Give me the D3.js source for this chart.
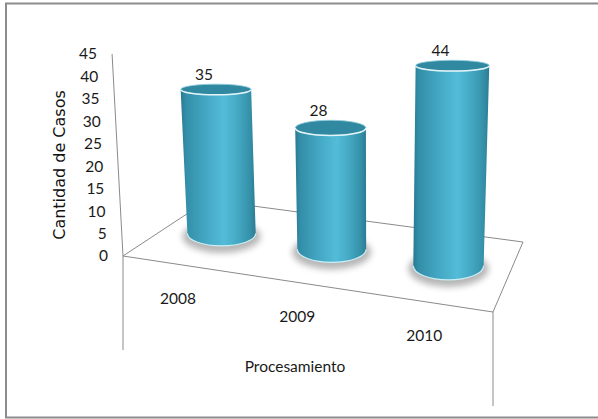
<!DOCTYPE html>
<html><head><meta charset="utf-8">
<script src="https://cdn.jsdelivr.net/npm/d3@7"></script>
<style>html,body{margin:0;padding:0;background:#fff;} svg{display:block}</style>
</head><body>
<svg id="chart" width="598" height="419"></svg>
<script>
const categories = ["2008", "2009", "2010"];
const values = [35, 28, 44];
const tickValues = [0, 5, 10, 15, 20, 25, 30, 35, 40, 45];
const yTitle = "Cantidad de Casos";
const xTitle = "Procesamiento";

const svg = d3.select("#chart");
const defs = svg.append("defs");

// frame
svg.append("rect").attr("x", 6).attr("y", 3.5).attr("width", 620).attr("height", 414)
  .attr("fill", "#fff").attr("stroke", "#8c8c8c").attr("stroke-width", 2);

// floor homography (unit square -> screen quad)
const FL = [123, 256], FR = [493, 312], BR = [523, 242], BL = [208, 200];
function makeHom(p0, p1, p2, p3) {
  const dx1 = p1[0] - p2[0], dx2 = p3[0] - p2[0], dx3 = p0[0] - p1[0] + p2[0] - p3[0];
  const dy1 = p1[1] - p2[1], dy2 = p3[1] - p2[1], dy3 = p0[1] - p1[1] + p2[1] - p3[1];
  const den = dx1 * dy2 - dx2 * dy1;
  const g = (dx3 * dy2 - dx2 * dy3) / den, h = (dx1 * dy3 - dx3 * dy1) / den;
  const a = p1[0] - p0[0] + g * p1[0], b = p3[0] - p0[0] + h * p3[0], c = p0[0];
  const d = p1[1] - p0[1] + g * p1[1], e = p3[1] - p0[1] + h * p3[1], f = p0[1];
  return (u, v) => { const w = g * u + h * v + 1; return [(a * u + b * v + c) / w, (d * u + e * v + f) / w]; };
}
const F = makeHom(FL, FR, BR, BL);

const x = d3.scaleBand().domain(categories).range([0, 1]).padding(0);
const y = d3.scaleLinear().domain([0, 45]).range([0, 1]);

function P(u, v, val) {
  const b = F(u, v);
  const h = y(val) * (202 + 29 * u - 43.2 * v);
  const k = -0.054 + 0.0885 * u;
  return [b[0] + k * h, b[1] - h];
}

// floor
const floorPts = [[0,0],[1,0],[1,1],[0,1]].map(p => F(p[0], p[1]));
svg.append("path").attr("d", "M" + floorPts.map(p => p.join(",")).join("L") + "Z")
  .attr("fill", "none").attr("stroke", "#8a8a8a").attr("stroke-width", 1);
// axis line
const a0 = P(0, 0, 0), a1 = P(0, 0, 45);
svg.append("line").attr("x1", a0[0]).attr("y1", a0[1]).attr("x2", a1[0]).attr("y2", a1[1])
  .attr("stroke", "#8a8a8a").attr("stroke-width", 1);
// drop lines
[[0, 0], [1, 0]].forEach(p => {
  const q = F(p[0], p[1]);
  svg.append("line").attr("x1", q[0]).attr("y1", q[1]).attr("x2", q[0]).attr("y2", q[1] + 94)
    .attr("stroke", "#8a8a8a").attr("stroke-width", 1);
});

// tick labels
svg.append("g").selectAll("text").data(tickValues).join("text")
  .attr("x", d => P(0, 0, d)[0] - 15).attr("y", d => P(0, 0, d)[1])
  .attr("dy", "0.35em").attr("text-anchor", "end")
  .attr("font-family", "Lato, sans-serif").attr("font-size", 15.5).attr("fill", "#1a1a1a")
  .text(d => d);

// gradients & filters
const grad = defs.append("linearGradient").attr("id", "side").attr("x1", 0).attr("x2", 1).attr("y1", 0).attr("y2", 0);
[[0, "#287a91"], [0.07, "#338ea8"], [0.35, "#45a9c5"], [0.58, "#53bcd8"], [0.78, "#43a6c1"], [0.93, "#348fa7"], [1, "#2a7c93"]]
  .forEach(s => grad.append("stop").attr("offset", s[0]).attr("stop-color", s[1]));
defs.append("filter").attr("id", "blur").attr("x", "-50%").attr("y", "-50%").attr("width", "200%").attr("height", "200%")
  .append("feGaussianBlur").attr("stdDeviation", 3);

const ru = 0.095, rv = 0.2, vc = 0.5;
function ellipseOf(uc, val) {
  const pts = d3.range(72).map(i => {
    const t = i / 72 * 2 * Math.PI;
    return P(uc + ru * Math.cos(t), vc + rv * Math.sin(t), val);
  });
  const xs = pts.map(p => p[0]), ys = pts.map(p => p[1]);
  const x0 = d3.min(xs), x1 = d3.max(xs), y0 = d3.min(ys), y1 = d3.max(ys);
  return { cx: (x0 + x1) / 2, cy: (y0 + y1) / 2, rx: (x1 - x0) / 2, ry: (y1 - y0) / 2 };
}

const bars = categories.map((c, i) => {
  const uc = x(c) + x.bandwidth() / 2;
  return { c, v: values[i], b: ellipseOf(uc, 0), t: ellipseOf(uc, values[i]) };
});

const gBars = svg.append("g");
bars.forEach(d => {
  const b = d.b, t = d.t;
  gBars.append("ellipse").attr("cx", b.cx).attr("cy", b.cy + 3).attr("rx", b.rx + 5).attr("ry", b.ry + 4)
    .attr("fill", "#7a7a7a").attr("opacity", 0.55).attr("filter", "url(#blur)");
  gBars.append("path")
    .attr("d", `M${t.cx - t.rx},${t.cy}L${b.cx - b.rx},${b.cy}A${b.rx},${b.ry} 0 0 0 ${b.cx + b.rx},${b.cy}L${t.cx + t.rx},${t.cy}Z`)
    .attr("fill", "url(#side)");
  gBars.append("path")
    .attr("d", `M${b.cx - b.rx},${b.cy}A${b.rx},${b.ry} 0 0 0 ${b.cx + b.rx},${b.cy}`)
    .attr("fill", "none").attr("stroke", "#cdeef6").attr("stroke-width", 1.2);
  gBars.append("ellipse").attr("cx", t.cx).attr("cy", t.cy).attr("rx", t.rx).attr("ry", t.ry)
    .attr("fill", "#3089a1").attr("stroke", "#8fcddd").attr("stroke-width", 0.8);
  gBars.append("path")
    .attr("d", `M${t.cx - t.rx},${t.cy}A${t.rx},${t.ry} 0 0 0 ${t.cx + t.rx},${t.cy}`)
    .attr("fill", "none").attr("stroke", "#e2f4f8").attr("stroke-width", 1.6);
  svg.append("text").attr("x", t.cx - 12).attr("y", t.cy - t.ry - 4)
    .attr("text-anchor", "middle").attr("font-family", "Lato, sans-serif").attr("font-size", 15.5).attr("fill", "#1a1a1a")
    .text(d.v);
});

// category labels
svg.append("g").selectAll("text").data(categories).join("text")
  .attr("x", d => F(x(d) + x.bandwidth() / 2, 0)[0] - 2)
  .attr("y", d => F(x(d) + x.bandwidth() / 2, 0)[1] + 34)
  .attr("dy", "0.35em").attr("text-anchor", "middle")
  .attr("font-family", "Lato, sans-serif").attr("font-size", 15.5).attr("fill", "#1a1a1a")
  .text(d => d);

svg.append("text").attr("x", 295).attr("y", 367).attr("dy", "0.35em").attr("text-anchor", "middle")
  .attr("font-family", "Lato, sans-serif").attr("font-size", 15.5).attr("fill", "#1a1a1a").text(xTitle);

svg.append("text").attr("transform", "translate(59,165) rotate(-90)").attr("text-anchor", "middle")
  .attr("dominant-baseline", "central")
  .attr("font-family", "'DejaVu Sans', sans-serif").attr("font-size", 16).attr("fill", "#111").text(yTitle);
</script>
</body></html>
